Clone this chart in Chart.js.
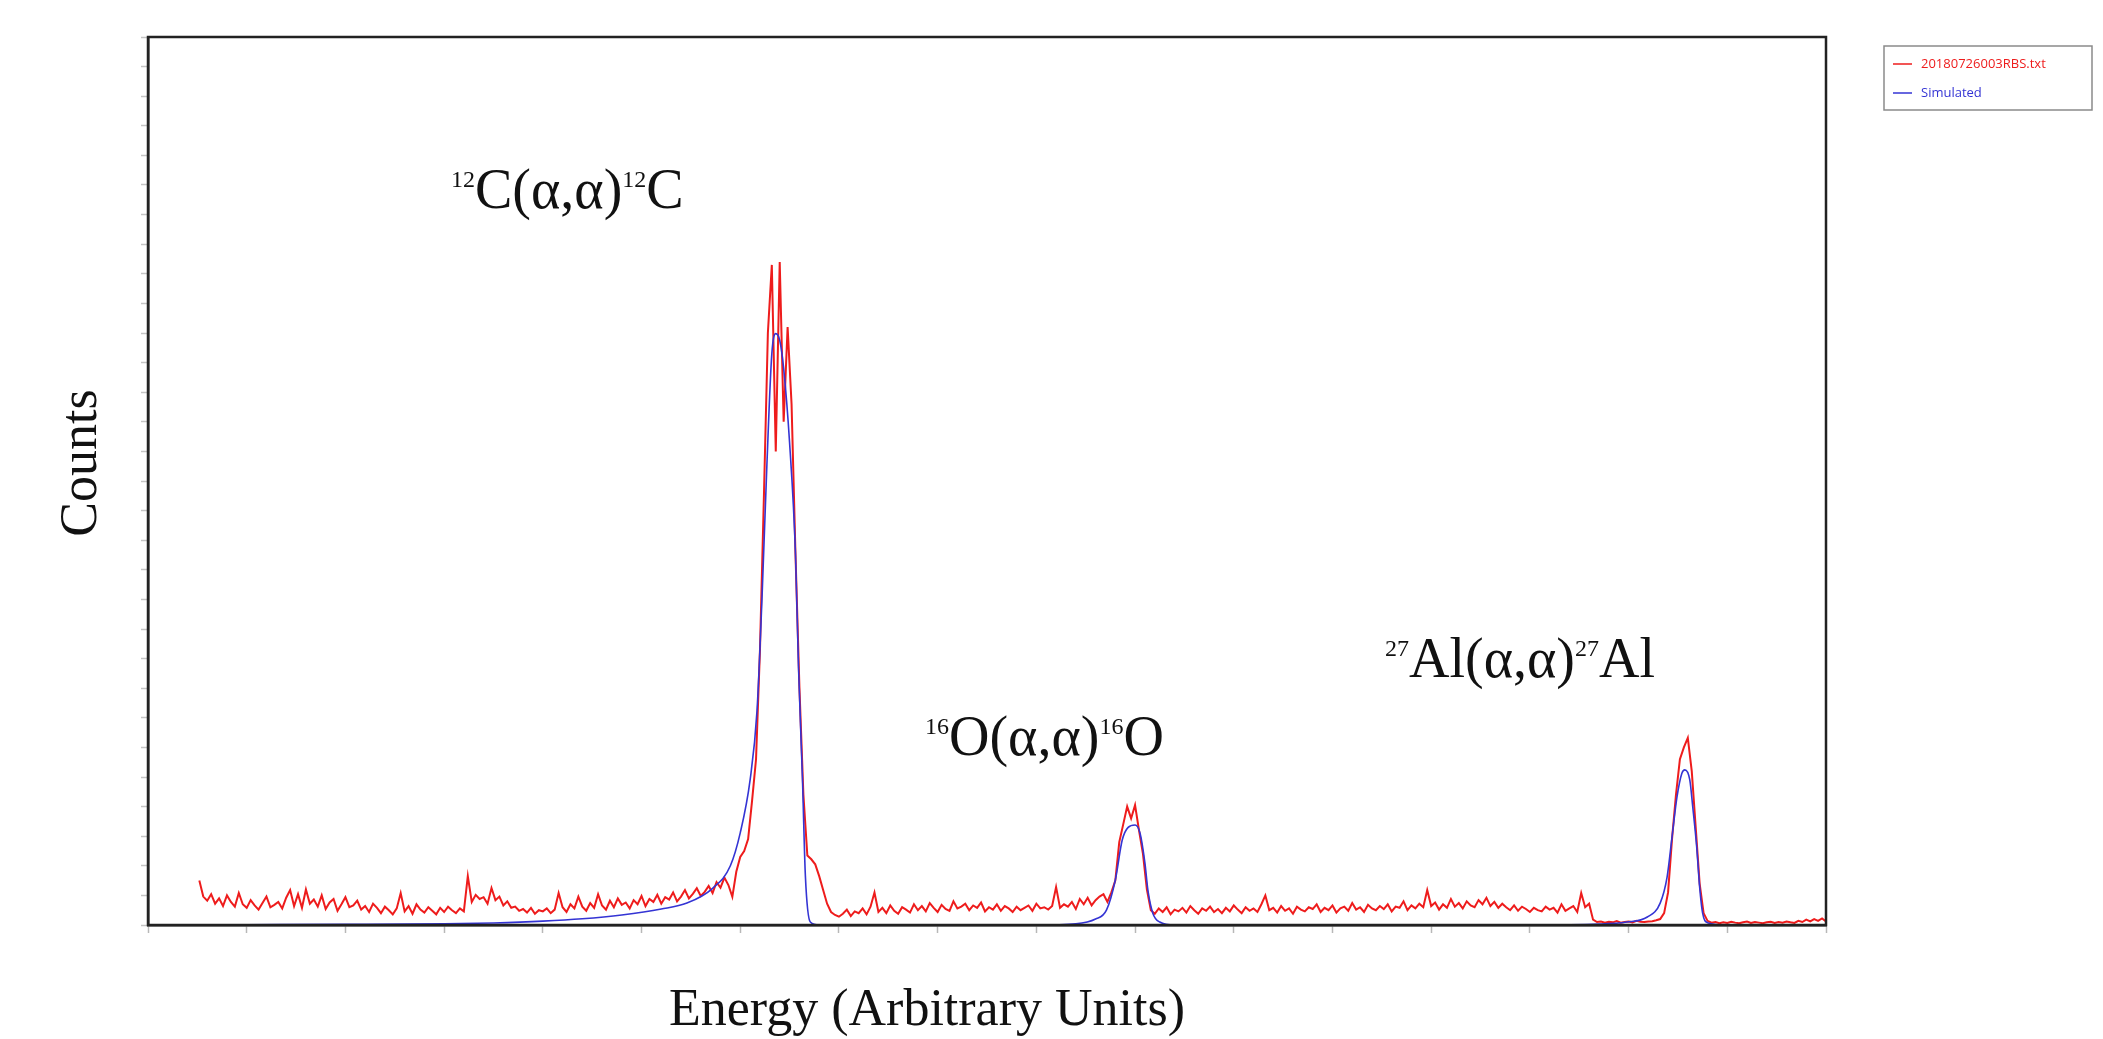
<!DOCTYPE html>
<html>
<head>
<meta charset="utf-8">
<script src="https://cdn.jsdelivr.net/npm/chart.js@4"></script>
<style>
  html, body { margin: 0; padding: 0; background: #fff; }
  #wrap { width: 2103px; height: 1039px; }
</style>
</head>
<body>
<div id="wrap"><canvas id="rbsChart" width="2103" height="1039"></canvas></div>
<script>
// measured spectrum: channels start at 52, one value every 4 channels
const channelStart = 52;
const channelStep = 4;
const measuredCounts = [
  150, 96, 82, 104, 72, 90, 64, 100, 78, 62,
  108, 70, 58, 84, 66, 52, 74, 96, 60, 68,
  78, 56, 92, 118, 64, 104, 58, 120, 72, 86,
  62, 100, 54, 76, 88, 48, 70, 94, 60, 66,
  82, 52, 64, 44, 72, 58, 40, 62, 50, 36,
  56, 108, 46, 64, 38, 70, 52, 42, 60, 48,
  36, 58, 44, 62, 50, 40, 56, 46, 165, 78,
  102, 88, 94, 72, 125, 84, 96, 66, 80, 58,
  62, 48, 54, 42, 58, 38, 50, 46, 56, 40,
  52, 108, 60, 44, 70, 56, 96, 62, 48, 74,
  58, 104, 66, 52, 82, 60, 90, 68, 76, 56,
  84, 70, 98, 64, 88, 78, 102, 72, 94, 86,
  110, 80, 96, 118, 90, 105, 124, 98, 112, 132,
  108, 145, 126, 160, 135, 95, 180, 230, 250, 290,
  420, 560, 930, 1450, 2000, 2230, 1600, 2240, 1700, 2020,
  1760, 1250, 800, 440, 235, 222, 205, 165, 118, 72,
  44, 34, 28, 38, 52, 30, 46, 40, 56, 36,
  62, 110, 44, 58, 40, 66, 48, 38, 60, 52,
  42, 70, 50, 64, 46, 74, 58, 44, 68, 54,
  48, 80, 56, 62, 72, 50, 66, 58, 76, 46,
  60, 52, 70, 48, 64, 56, 44, 62, 50, 58,
  66, 48, 72, 56, 60, 52, 64, 128, 58, 70,
  62, 78, 54, 88, 70, 92, 66, 84, 96, 104,
  78, 110, 150, 280, 340, 400, 360, 405, 320, 240,
  120, 50, 38, 56, 44, 60, 36, 52, 46, 58,
  42, 64, 50, 38, 56, 48, 62, 44, 54, 40,
  58, 46, 66, 52, 40, 60, 48, 56, 44, 70,
  100, 50, 58, 42, 64, 48, 56, 38, 62, 52,
  46, 60, 54, 70, 44, 58, 50, 66, 42, 56,
  62, 48, 74, 52, 60, 44, 68, 56, 50, 64,
  54, 70, 46, 62, 58, 80, 50, 66, 56, 72,
  60, 118, 64, 76, 52, 70, 58, 88, 62, 74,
  56, 80, 66, 60, 84, 70, 92, 64, 78, 58,
  72, 60, 50, 66, 48, 62, 54, 44, 58, 50,
  46, 62, 52, 58, 42, 70, 48, 56, 64, 44,
  108, 60, 72, 18, 10, 12, 8, 11, 9, 13,
  8, 10, 12, 9, 14, 11, 10, 12, 13, 16,
  20, 40, 110, 290, 440, 560, 600, 632, 520, 330,
  140, 40, 14, 8, 10, 6, 9, 7, 11, 8,
  6, 9, 12, 7, 10, 8, 6, 9, 11, 7,
  10, 8, 12, 9, 7, 14, 10, 18, 12, 20,
  14, 22, 12
];

// simulated spectrum (smooth fit)
const simChannels = [0, 100, 200, 300, 350, 400, 440, 480, 520, 546, 572, 590, 600, 610, 617, 622, 627, 632, 636, 640, 644, 650, 656, 659, 663, 666, 671, 680,
  900, 940, 960, 971, 980, 987, 993, 1000, 1005, 1010, 1013, 1018, 1025, 1040,
  1400, 1470, 1498, 1519, 1532, 1539, 1544, 1549, 1554, 1557, 1562, 1565, 1569, 1572, 1575, 1580, 1600, 1700];
const simCounts = [0, 1, 2, 4, 7, 13, 21, 34, 54, 74, 124, 200, 311, 490, 724, 1100, 1554, 1930, 1998, 1975, 1880, 1629, 1252, 875, 498, 166, 10, 0,
  0, 4, 20, 50, 152, 287, 330, 338, 311, 209, 118, 40, 10, 0,
  0, 3, 10, 27, 74, 162, 297, 432, 513, 524, 490, 399, 264, 128, 40, 8, 0, 0];

const xTickStep = 100;
const yTickStep = 100;
const xMax = 1700;
const yMax = 3000;

const seriesNames = ['20180726003RBS.txt', 'Simulated'];
const peakLabels = [
  { mass: '12', name: 'C', x: 451, y: 208 },
  { mass: '16', name: 'O', x: 925, y: 755 },
  { mass: '27', name: 'Al', x: 1385, y: 677 }
];

const measuredPoints = measuredCounts.map((c, i) => ({ x: channelStart + i * channelStep, y: c }));
const simPoints = simChannels.map((ch, i) => ({ x: ch, y: simCounts[i] }));

const serif = '"Liberation Serif", "DejaVu Serif", serif';

// frame, axis titles, peak labels and the small legend box
const decorPlugin = {
    id: 'decor',
    afterDraw(chart) {
        const ctx = chart.ctx;
        const a = chart.chartArea;
        ctx.save();
        ctx.strokeStyle = '#222';
        ctx.lineWidth = 2.5;
        ctx.strokeRect(a.left, a.top, a.right - a.left, a.bottom - a.top);

        ctx.fillStyle = '#111';
        ctx.font = '52px ' + serif;
        ctx.textAlign = 'center';
        ctx.textBaseline = 'alphabetic';
        ctx.fillText('Energy (Arbitrary Units)', 927, 1025);
        ctx.save();
        ctx.translate(96, 463);
        ctx.rotate(-Math.PI / 2);
        ctx.fillText('Counts', 0, 0);
        ctx.restore();

        ctx.textAlign = 'left';
        peakLabels.forEach(p => {
            let x = p.x;
            const parts = [[p.mass, true], [p.name + '(\u03b1,\u03b1)', false], [p.mass, true], [p.name, false]];
            parts.forEach(([t, sup]) => {
                ctx.font = (sup ? '24px ' : '56px ') + serif;
                ctx.fillText(t, x, sup ? p.y - 21 : p.y);
                x += ctx.measureText(t).width;
            });
        });

        // legend
        ctx.strokeStyle = '#8a8a8a';
        ctx.lineWidth = 1.5;
        ctx.strokeRect(1884, 46, 208, 64);
        ctx.font = '13px "Open Sans", sans-serif';
        ctx.textBaseline = 'middle';
        chart.data.datasets.forEach((ds, i) => {
            const y = 64 + i * 29;
            ctx.strokeStyle = ds.borderColor;
            ctx.lineWidth = 1.5;
            ctx.beginPath();
            ctx.moveTo(1893, y);
            ctx.lineTo(1912, y);
            ctx.stroke();
            ctx.fillStyle = ds.borderColor;
            ctx.fillText(ds.label, 1921, y);
        });
        ctx.restore();
    }
};

new Chart(document.getElementById('rbsChart'), {
    type: 'line',
    data: {
        datasets: [{
            label: seriesNames[0],
            data: measuredPoints,
            borderColor: '#ee1c1c',
            borderWidth: 2,
            pointRadius: 0,
            tension: 0,
            order: 1
        }, {
            label: seriesNames[1],
            data: simPoints,
            borderColor: '#3434d4',
            borderWidth: 1.6,
            pointRadius: 0,
            cubicInterpolationMode: 'monotone',
            order: 0
        }]
    },
    plugins: [decorPlugin],
    options: {
        responsive: false,
        animation: false,
        layout: { padding: { left: 148, top: 37, right: 277, bottom: 114 } },
        plugins: {
            legend: { display: false },
            tooltip: { enabled: false }
        },
        scales: {
            x: {
                type: 'linear',
                min: 0,
                max: xMax,
                afterFit: s => { s.height = 0; },
                ticks: { display: false, stepSize: xTickStep },
                grid: { drawOnChartArea: false, drawTicks: true, tickLength: 8, tickColor: '#b8b8b8', tickWidth: 1.5 },
                border: { display: true, color: '#111', width: 2.5 }
            },
            y: {
                type: 'linear',
                min: 0,
                max: yMax,
                afterFit: s => { s.width = 0; },
                ticks: { display: false, stepSize: yTickStep },
                grid: { drawOnChartArea: false, drawTicks: true, tickLength: 7, tickColor: '#c4c4c4', tickWidth: 1.5 },
                border: { display: true, color: '#111', width: 2.5 }
            }
        }
    }
});
</script>
</body>
</html>
